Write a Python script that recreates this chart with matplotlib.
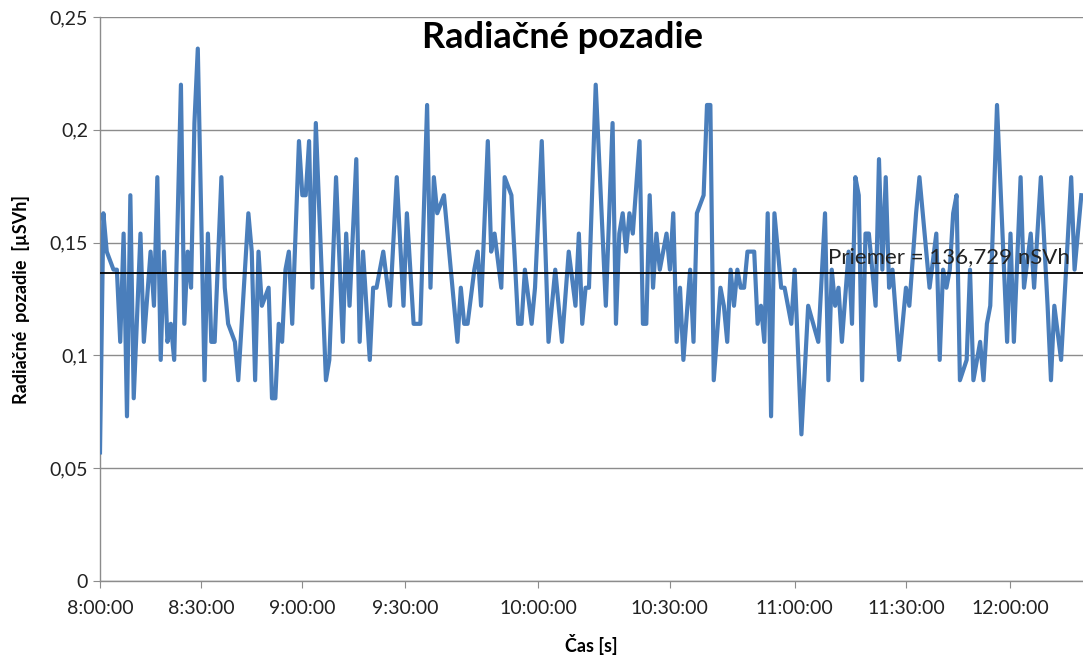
import numpy as np
import matplotlib
matplotlib.use('Agg')
import matplotlib.pyplot as plt

# sample index (category position along the x axis) and dose rate [uSv/h]
idx = [0, 1, 2, 4, 5, 6, 7, 8, 9, 10, 12, 13, 15, 16, 17, 18, 19, 20, 21, 22, 24, 25, 26, 27, 28, 29,
       31, 32, 33, 34, 36, 37, 38, 40, 41, 44, 45, 46, 47, 48, 50, 51, 52, 53, 54, 55, 56, 57,
       59, 60, 61, 62, 63, 64, 67, 68, 70, 72, 73, 74, 76, 77, 78, 80, 81, 82, 84, 86, 88,
       90, 91, 93, 95, 97, 98, 99, 100, 102, 106, 107, 108, 109, 111, 112, 113, 115, 116, 117,
       119, 120, 122, 124, 125, 126, 128, 129, 131, 133, 135, 137, 139, 141, 142, 143, 144, 145, 147,
       150, 152, 153, 154, 155, 156, 157, 158, 160, 161, 162, 163, 164, 165, 166, 168, 169, 170,
       171, 172, 173, 175, 176, 177, 179, 180, 181, 182, 184, 185, 186, 187, 188, 189, 190, 191,
       192, 194, 195, 196, 197, 198, 199, 200, 202, 203, 205, 206, 208, 210, 213, 215, 216, 217,
       218, 219, 220, 222, 223, 224, 225, 226, 227, 228, 230, 231, 232, 233, 234, 235, 237, 239,
       240, 242, 243, 245, 246, 248, 249, 250, 251, 252, 253, 254, 255, 257, 258, 259, 261, 262,
       263, 264, 266, 269, 270, 271, 273, 274, 276, 277, 279, 281, 282, 283, 285, 288, 289, 291]

dose = [0.057, 0.163, 0.146, 0.138, 0.138, 0.106, 0.154, 0.073, 0.171, 0.081, 0.154, 0.106, 0.146,
        0.122, 0.179, 0.098, 0.146, 0.106, 0.114, 0.098, 0.220, 0.114, 0.146, 0.130, 0.203, 0.236,
        0.089, 0.154, 0.106, 0.106, 0.179, 0.130, 0.114, 0.106, 0.089, 0.163, 0.146, 0.089, 0.146,
        0.122, 0.130, 0.081, 0.081, 0.114, 0.106, 0.138, 0.146, 0.114,
        0.195, 0.171, 0.171, 0.195, 0.130, 0.203, 0.089, 0.098, 0.179, 0.106, 0.154, 0.122, 0.187,
        0.106, 0.146, 0.098, 0.130, 0.130, 0.146, 0.122, 0.179,
        0.122, 0.163, 0.114, 0.114, 0.211, 0.130, 0.179, 0.163, 0.171, 0.106, 0.130, 0.114, 0.114,
        0.138, 0.146, 0.122, 0.195, 0.146, 0.154,
        0.130, 0.179, 0.171, 0.114, 0.114, 0.138, 0.114, 0.130, 0.195, 0.106, 0.138, 0.106, 0.146,
        0.122, 0.154, 0.114, 0.130, 0.130, 0.220,
        0.122, 0.203, 0.114, 0.154, 0.163, 0.146, 0.163, 0.154, 0.195, 0.114, 0.114, 0.171, 0.130,
        0.154, 0.138, 0.154, 0.138, 0.163,
        0.106, 0.130, 0.098, 0.138, 0.106, 0.163, 0.171, 0.211, 0.211, 0.089, 0.130, 0.122, 0.106,
        0.138, 0.122, 0.138, 0.130, 0.130,
        0.146, 0.146, 0.114, 0.122, 0.106, 0.163, 0.073, 0.163, 0.130, 0.130, 0.114, 0.138, 0.065,
        0.122, 0.106, 0.163, 0.089, 0.138,
        0.122, 0.130, 0.106, 0.146, 0.114, 0.179, 0.171, 0.089, 0.154, 0.154, 0.122, 0.187, 0.138,
        0.179, 0.130, 0.138, 0.098, 0.130,
        0.122, 0.163, 0.179, 0.146, 0.130, 0.154, 0.098, 0.138, 0.130, 0.138, 0.163, 0.171, 0.089,
        0.098, 0.138, 0.089, 0.106, 0.089,
        0.114, 0.122, 0.211, 0.106, 0.154, 0.106, 0.179, 0.130, 0.154, 0.130, 0.179, 0.122, 0.089,
        0.122, 0.098, 0.179, 0.138, 0.171]

mean_dose = 0.136729
tick_idx = [0, 30, 60, 90.5, 130, 169, 206, 239, 270]
tick_labels = ['8:00:00', '8:30:00', '9:00:00', '9:30:00', '10:00:00', '10:30:00',
               '11:00:00', '11:30:00', '12:00:00']

plt.rcParams['font.family'] = ['Lato', 'DejaVu Sans']

fig = plt.figure(figsize=(10.83, 6.59), dpi=100)
ax = fig.add_axes([100 / 1083, 78 / 659, 983 / 1083, 564 / 659])

ax.plot(idx, dose, color='#4a7ebb', linewidth=3.0, solid_joinstyle='round', zorder=3)
ax.axhline(mean_dose, color='black', linewidth=1.3, zorder=4)
ax.text(287.5, mean_dose + 0.0025, 'Priemer = 136,729 nSVh', ha='right', va='bottom',
        fontsize=16, color='#222222', zorder=5)

ax.set_xlim(0, 291.5)
ax.set_ylim(0, 0.25)
ax.set_yticks(np.arange(0, 0.2501, 0.05))
ax.set_yticklabels(['0', '0,05', '0,1', '0,15', '0,2', '0,25'])
ax.set_xticks(tick_idx)
ax.set_xticklabels(tick_labels)

ax.grid(axis='y', color='#8c8c8c', linewidth=1.0)
ax.set_axisbelow(True)
for s in ['top', 'right']:
    ax.spines[s].set_visible(False)
for s in ['left', 'bottom']:
    ax.spines[s].set_color('#8c8c8c')
    ax.spines[s].set_linewidth(1.0)
ax.tick_params(axis='both', colors='#8c8c8c', labelcolor='#222222', labelsize=14, length=5)
ax.tick_params(axis='x', pad=9)

fig.text(562 / 1083, 1 - 37 / 659, 'Radiačné pozadie', fontsize=26, fontweight='bold',
         ha='center', va='center')
ax.set_xlabel('Čas [s]', fontsize=13, fontweight='bold', labelpad=12)
ax.set_ylabel('Radiačné  pozadie  [µSVh]', fontsize=13, fontweight='bold', labelpad=14)

fig.savefig('out.png', dpi=100)
plt.close(fig)
